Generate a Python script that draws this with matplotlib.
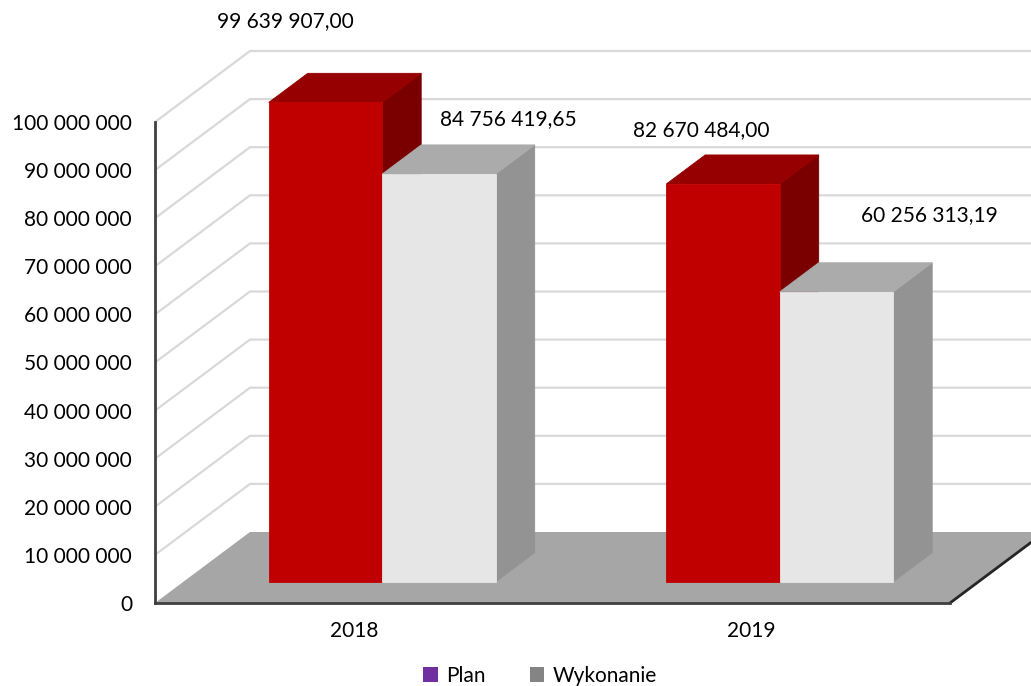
import matplotlib
matplotlib.use("Agg")
import matplotlib.pyplot as plt
from matplotlib.patches import Polygon, Patch
from matplotlib.ticker import FuncFormatter

# ---- data ----
years = ['2018', '2019']
plan = [99639907.00, 82670484.00]
wykonanie = [84756419.65, 60256313.19]
plan_labels = ['99 639 907,00', '82 670 484,00']
wyk_labels = ['84 756 419,65', '60 256 313,19']
series_names = ['Plan', 'Wykonanie']
yticks = list(range(0, 100_000_001, 10_000_000))

# ---- style / layout ----
plt.rcParams['font.family'] = ['Lato', 'DejaVu Sans']
FS = 15
W, H = 1031, 686
fig = plt.figure(figsize=(W / 100, H / 100), dpi=100)

px_x0, px_x1 = 155, 950      # floor front edge (pixels)
py0, py100 = 603, 122        # value 0 and 100M on front plane (pixels)
ppu_x = (px_x1 - px_x0) / len(years)
ppu_y = (py0 - py100) / 100e6

ax = fig.add_axes([px_x0 / W, (H - py0) / H, (W - px_x0) / W, py0 / H])
ax.set_xlim(0, (W - px_x0) / ppu_x)
ax.set_ylim(0, py0 / ppu_y)

# oblique depth vector (full floor depth) in data units
ddx = 95 / ppu_x
ddy = 71 / ppu_y
front_frac = 0.30            # bar front position within depth
depth_frac = 0.41            # bar depth
bar_w = 113.5 / ppu_x

grid_c = '#D9D9D9'
for v in yticks[1:]:
    ax.plot([0, ddx, 2.5], [v, v + ddy, v + ddy], color=grid_c, lw=1.6,
            zorder=1, solid_capstyle='butt')

# floor
n = len(years)
floor = Polygon([(0, 0), (n, 0), (n + ddx, ddy), (ddx, ddy)],
                closed=True, fc='#A6A6A6', ec='none', zorder=2)
ax.add_patch(floor)
ax.plot([n, n + ddx], [0, ddy], color='#262626', lw=2, zorder=2.5,
        clip_on=False)

plan_cols = ('#C00000', '#960000', '#7A0000')
wyk_cols = ('#E6E6E6', '#ABABAB', '#939393')

sx, sy = front_frac * ddx, front_frac * ddy
bx, by = depth_frac * ddx, depth_frac * ddy


def face(pts, col, z):
    ax.add_patch(Polygon(pts, fc=col, ec=col, lw=0.6, joinstyle='miter', zorder=z))


def box(x0, val, cols, z):
    x1 = x0 + bar_w
    fx0, fx1 = x0 + sx, x1 + sx
    base, top = sy, sy + val
    face([(fx1, base), (fx1, top), (fx1 + bx, top + by), (fx1 + bx, base + by)], cols[2], z)
    face([(fx0, top), (fx1, top), (fx1 + bx, top + by), (fx0 + bx, top + by)], cols[1], z)
    face([(fx0, base), (fx1, base), (fx1, top), (fx0, top)], cols[0], z)
    return (fx0 + fx1) / 2, top


plan_off = [(-40, 81), (-22, 54)]
wyk_off = [(69, 55), (93, 77)]
for i in range(n):
    c = i + 0.5
    xc, top = box(c - bar_w, plan[i], plan_cols, 3 + i)
    ax.annotate(plan_labels[i], (xc, top), xytext=plan_off[i],
                textcoords='offset pixels', ha='center', va='center',
                fontsize=FS, color='#000000', annotation_clip=False)
    xc, top = box(c, wykonanie[i], wyk_cols, 3.5 + i)
    ax.annotate(wyk_labels[i], (xc, top), xytext=wyk_off[i],
                textcoords='offset pixels', ha='center', va='center',
                fontsize=FS, color='#000000', annotation_clip=False)

# axes
for s in ['top', 'right']:
    ax.spines[s].set_visible(False)
ax.spines['left'].set_bounds(0, 100e6)
ax.spines['bottom'].set_bounds(0, n)
for s in ['left', 'bottom']:
    ax.spines[s].set_color('#404040')
    ax.spines[s].set_linewidth(2)
    ax.spines[s].set_zorder(6)

ax.set_yticks(yticks)
ax.yaxis.set_major_formatter(FuncFormatter(lambda v, p: f"{int(v):,}".replace(',', ' ')))
ax.set_xticks([i + 0.5 for i in range(n)])
ax.set_xticklabels(years)
ax.tick_params(axis='y', length=0, pad=16.5, labelsize=FS)
ax.tick_params(axis='x', length=0, pad=13, labelsize=FS)

handles = [Patch(fc='#7030A0', ec='none'), Patch(fc='#848484', ec='none')]
fig.legend(handles, series_names, loc='center', bbox_to_anchor=(540 / W, 1 - 676 / H),
           ncol=2, frameon=False, handlelength=0.7, handleheight=0.7,
           handletextpad=0.4, columnspacing=2.1, fontsize=FS)

fig.savefig('out.png', dpi=100)
